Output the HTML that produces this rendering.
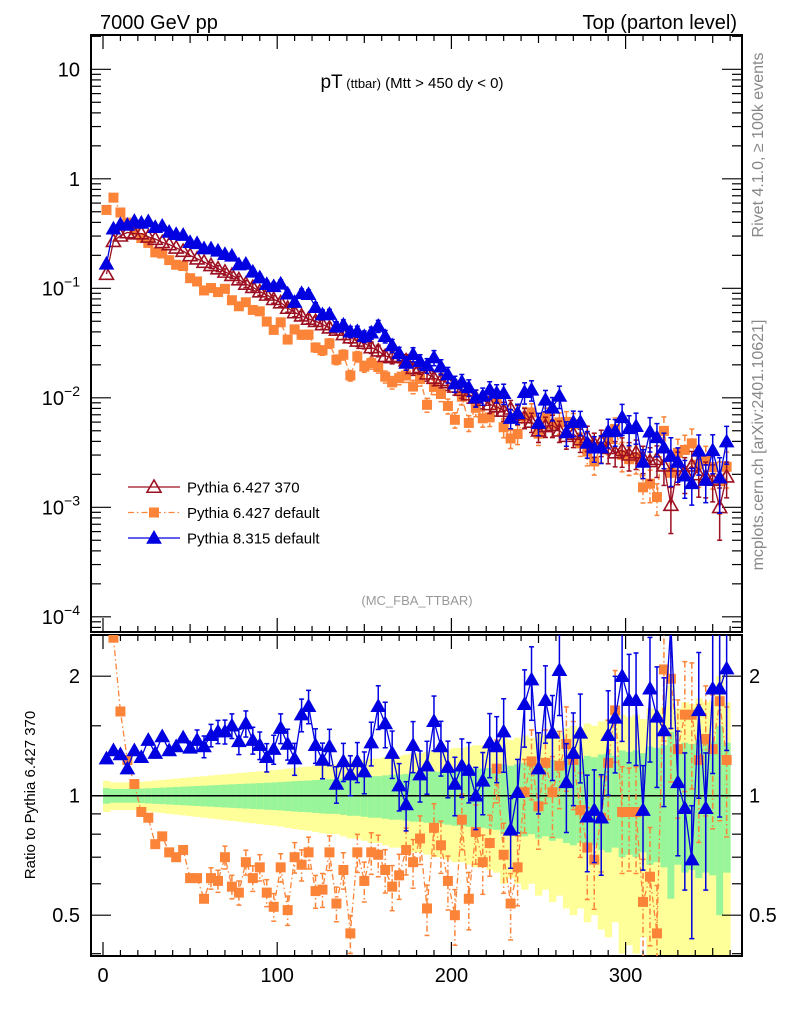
<!DOCTYPE html>
<html><head><meta charset="utf-8">
<style>
html,body{margin:0;padding:0;background:#fff;overflow:hidden;width:786px;height:1024px;}
svg{display:block;font-family:"Liberation Sans",sans-serif;}
</style></head>
<body>
<svg id="chart" width="786" height="1024" viewBox="0 0 786 1024" xmlns="http://www.w3.org/2000/svg">
<defs>
<clipPath id="mainClip"><rect x="91" y="35" width="651" height="597"/></clipPath>
<clipPath id="ratioClip"><rect x="91" y="635" width="651" height="321"/></clipPath>
</defs>
<rect x="0" y="0" width="786" height="1024" fill="#fff"/>
<g id="ratioBands" clip-path="url(#ratioClip)"></g>
<g id="axes"></g>
<g id="mainSeries" clip-path="url(#mainClip)"></g>
<g id="ratioSeries" clip-path="url(#ratioClip)"></g>
<text x="100" y="29" font-size="20">7000 GeV pp</text>
<text x="737" y="29" font-size="20" text-anchor="end">Top (parton level)</text>
<text x="412" y="88" text-anchor="middle"><tspan font-size="19">pT</tspan><tspan font-size="13"> (ttbar)</tspan><tspan font-size="15"> (Mtt &gt; 450 dy &lt; 0)</tspan></text>
<text x="417" y="605" font-size="13" fill="#999" text-anchor="middle">(MC_FBA_TTBAR)</text>
<text transform="translate(763,145) rotate(-90)" font-size="16" fill="#888" text-anchor="middle">Rivet 4.1.0, ≥ 100k events</text>
<text transform="translate(763,445) rotate(-90)" font-size="16" fill="#888" text-anchor="middle">mcplots.cern.ch [arXiv:2401.10621]</text>
<text transform="translate(35,795) rotate(-90)" font-size="15" text-anchor="middle">Ratio to Pythia 6.427 370</text>
<g id="legend"></g>
</svg>
<script>
const binCenters=[2,6,10,14,18,22,26,30,34,38,42,46,50,54,58,62,66,70,74,78,82,86,90,94,98,102,106,110,114,118,122,126,130,134,138,142,146,150,154,158,162,166,170,174,178,182,186,190,194,198,202,206,210,214,218,222,226,230,234,238,242,246,250,254,258,262,266,270,274,278,282,286,290,294,298,302,306,310,314,318,322,326,330,334,338,342,346,350,354,358];
const refLog10=[-0.87,-0.57,-0.52,-0.49,-0.50,-0.50,-0.53,-0.55,-0.58,-0.60,-0.63,-0.66,-0.70,-0.73,-0.76,-0.79,-0.82,-0.85,-0.88,-0.92,-0.96,-0.99,-1.03,-1.06,-1.10,-1.13,-1.18,-1.22,-1.25,-1.28,-1.30,-1.33,-1.36,-1.38,-1.42,-1.45,-1.48,-1.50,-1.54,-1.57,-1.62,-1.63,-1.62,-1.66,-1.73,-1.72,-1.78,-1.82,-1.84,-1.86,-1.90,-1.93,-1.97,-2.00,-2.02,-2.06,-2.08,-2.12,-2.10,-2.15,-2.18,-2.22,-2.30,-2.26,-2.25,-2.30,-2.35,-2.33,-2.38,-2.36,-2.42,-2.40,-2.46,-2.50,-2.48,-2.52,-2.50,-2.55,-2.58,-2.56,-2.62,-2.98,-2.62,-2.68,-2.62,-2.70,-2.72,-2.75,-3.00,-2.72];
const blueRatio=[1.24,1.30,1.27,1.17,1.30,1.25,1.38,1.28,1.41,1.30,1.33,1.40,1.32,1.38,1.33,1.42,1.45,1.45,1.50,1.37,1.52,1.38,1.34,1.25,1.31,1.48,1.35,1.24,1.60,1.68,1.34,1.23,1.33,1.07,1.22,1.13,1.22,1.15,1.36,1.68,1.52,1.28,1.06,0.95,1.34,1.13,1.19,1.54,1.33,1.18,1.07,1.19,1.16,1.00,1.09,1.36,1.33,1.45,0.82,1.02,1.70,1.96,1.17,1.74,1.44,2.07,1.08,1.28,1.44,0.885,0.92,0.88,1.42,1.57,2.00,1.74,1.74,0.92,1.86,1.58,1.46,2.80,1.08,0.93,0.69,1.64,0.93,1.86,1.86,2.09];
const orangeRatio=[3.85,2.50,1.63,1.23,1.07,0.91,0.88,0.755,0.79,0.72,0.70,0.73,0.62,0.62,0.55,0.62,0.61,0.70,0.59,0.57,0.68,0.62,0.66,0.57,0.525,0.66,0.515,0.70,0.67,0.72,0.575,0.58,0.72,0.535,0.65,0.45,0.72,0.61,0.72,0.71,0.65,0.59,0.63,0.73,0.68,0.78,0.52,0.83,0.75,0.61,0.50,0.87,0.55,0.81,0.68,0.76,1.17,0.71,0.535,0.66,1.02,1.22,0.94,1.21,1.02,1.19,1.35,1.23,0.92,0.74,0.69,0.88,1.21,1.64,0.91,0.91,0.91,0.54,0.625,0.45,2.08,1.97,1.31,1.60,1.60,1.23,1.39,1.31,1.73,1.23];
const relErr=[.045,.04,.04,.04,.04,.042,.044,.046,.048,.05,.052,.054,.056,.058,.06,.062,.064,.066,.068,.07,.072,.074,.076,.078,.08,.082,.085,.088,.09,.092,.095,.098,.10,.10,.105,.11,.11,.115,.12,.12,.125,.13,.13,.135,.14,.14,.145,.15,.15,.155,.16,.16,.165,.17,.17,.175,.18,.20,.19,.20,.21,.20,.22,.21,.23,.22,.24,.25,.24,.26,.25,.27,.28,.26,.30,.29,.30,.28,.33,.32,.34,.45,.33,.36,.35,.38,.36,.37,.50,.36];
const xTickLabels=["0","100","200","300"];
const xTickValues=[0,100,200,300];
const ratioTickValues=[0.5,1,2];
const ratioTickLabels=["0.5","1","2"];

const NS="http://www.w3.org/2000/svg";
const RED="#9c1022",ORANGE="#fb8439",BLUE="#0000e0";
const BIN=4;
function clamp(v,a,b){return Math.max(a,Math.min(b,v));}
function xs(v){return 103+1.742*v;}
function ym(v){return clamp(69.3+(1-Math.log10(v))*109.5,25,645);}
function yr(r){return clamp(795.7-Math.log10(Math.max(r,1e-3))*397,625,966);}
function mk(tag,attrs,parent){const e=document.createElementNS(NS,tag);for(const k in attrs)e.setAttribute(k,attrs[k]);parent.appendChild(e);return e;}
const axes=document.getElementById('axes');
const bands=document.getElementById('ratioBands');
const ms=document.getElementById('mainSeries');
const rs=document.getElementById('ratioSeries');

for(let i=0;i<binCenters.length;i++){
  const x0=xs(binCenters[i]-BIN/2),x1=xs(binCenters[i]+BIN/2),e=relErr[i];
  const yl=mk('rect',{x:x0,y:yr(1+2*e),width:x1-x0+0.5,height:yr(Math.max(1-2*e,0.05))-yr(1+2*e),fill:"#ffff99"},bands);
  
  
  const gr=mk('rect',{x:x0,y:yr(1+e),width:x1-x0+0.5,height:yr(1-e)-yr(1+e),fill:"#99f599"},bands);
  
  
}
const one=mk('line',{x1:91,x2:742,y1:yr(1),y2:yr(1),stroke:"#000","stroke-width":1.5},bands);



function line(x1,y1,x2,y2,w){return mk('line',{x1:x1,y1:y1,x2:x2,y2:y2,stroke:"#000","stroke-width":w||1.2},axes);}
const f1=mk('rect',{x:91,y:35,width:651,height:597,fill:"none",stroke:"#000","stroke-width":2},axes);


const f2=mk('rect',{x:91,y:635,width:651,height:321,fill:"none",stroke:"#000","stroke-width":2},axes);


for(let v=0;v<=360;v+=10){
  const maj=v%100===0,len=maj?14:(v%50===0?8:6),x=xs(v);
  line(x,35,x,35+len);line(x,632,x,632-len);
  line(x,635,x,635+len);line(x,956,x,956-len);
}
xTickValues.forEach((v,i)=>{const t=mk('text',{x:xs(v),y:982,"font-size":20,"text-anchor":"middle"},axes);t.textContent=xTickLabels[i];
 
 });
const decades=[1,0,-1,-2,-3,-4];
for(let d=-5;d<=1;d++){
  for(let m=1;m<=9;m++){const v=m*Math.pow(10,d),y=69.3+(1-Math.log10(v))*109.5;if(y<36||y>631)continue;
    const len=m===1?20:10;line(91,y,91+len,y);line(742,y,742-len,y);}
}
decades.forEach(d=>{const y=ym(Math.pow(10,d));const t=mk('text',{x:80,y:y+7,"font-size":20,"text-anchor":"end"},axes);
  
  
  if(d===1)t.textContent="10";else if(d===0)t.textContent="1";
  else{const a=mk('tspan',{},t);a.textContent="10";const b=mk('tspan',{dy:-9,"font-size":14},t);b.textContent="\u2212"+(-d);}});
[0.4,0.5,0.6,0.7,0.8,0.9,1,1.5,2].forEach(v=>{const y=795.7-Math.log10(v)*397;if(y<636||y>955)return;const maj=(v===0.5||v===1||v===2);const len=maj?20:10;
  line(91,y,91+len,y);line(742,y,742-len,y);});
ratioTickValues.forEach((v,i)=>{const y=yr(v)+7;
  const t=mk('text',{x:80,y:y,"font-size":20,"text-anchor":"end"},axes);t.textContent=ratioTickLabels[i];
  
  
  const t2=mk('text',{x:749,y:y,"font-size":20},axes);t2.textContent=ratioTickLabels[i];
  
  });

function tri(g,x,y,col,open){const s=7;const p=mk('polygon',{points:`${x},${y-s} ${x-s},${y+s*0.75} ${x+s},${y+s*0.75}`,fill:open?"none":col,stroke:col,"stroke-width":open?1.6:1},g);return p;}
function sq(g,x,y,col){return mk('rect',{x:x-5,y:y-5,width:10,height:10,fill:col},g);}
function errbar(g,x,y1,y2,col,dash){mk('line',{x1:x,x2:x,y1:y1,y2:y2,stroke:col,"stroke-width":1.5,"stroke-dasharray":dash||""},g);
  mk('line',{x1:x-2.5,x2:x+2.5,y1:y1,y2:y1,stroke:col,"stroke-width":1.5},g);mk('line',{x1:x-2.5,x2:x+2.5,y1:y2,y2:y2,stroke:col,"stroke-width":1.5},g);}

function drawSeries(parent,vals,errs,col,kind,dash,yf,name){
  const g=mk('g',{},parent);
  
  
  let pts=[];
  vals.forEach((v,i)=>{pts.push(xs(binCenters[i])+","+yf(v));});
  mk('polyline',{points:pts.join(" "),fill:"none",stroke:col,"stroke-width":1.3,"stroke-dasharray":dash||""},g);
  vals.forEach((v,i)=>{const x=xs(binCenters[i]);const e=errs[i]*v;
    if(errs[i]>0.06)errbar(g,x,yf(v+e),yf(Math.max(v-e,v*0.05)),col,dash);
    const m=kind==='sq'?sq(g,x,yf(v),col):tri(g,x,yf(v),col,kind==='open');
    
    });
}
const refVals=refLog10.map(l=>Math.pow(10,l));
const orangeVals=refVals.map((v,i)=>v*orangeRatio[i]);
const blueVals=refVals.map((v,i)=>v*blueRatio[i]);
const errBlue=relErr.map(e=>e*1.05);
drawSeries(ms,orangeVals,relErr,ORANGE,'sq',"6,3,1.5,3",ym,'pythia6-default-main');
drawSeries(ms,refVals,relErr,RED,'open',"",ym,'pythia6-370-main');
drawSeries(ms,blueVals,errBlue,BLUE,'fill',"",ym,'pythia8-default-main');
drawSeries(rs,orangeRatio,relErr,ORANGE,'sq',"6,3,1.5,3",yr,'pythia6-default-ratio');
drawSeries(rs,blueRatio,errBlue,BLUE,'fill',"",yr,'pythia8-default-ratio');

const lg=document.getElementById('legend');
const entries=[["Pythia 6.427 370",RED,'open',""],["Pythia 6.427 default",ORANGE,'sq',"6,3,1.5,3"],["Pythia 8.315 default",BLUE,'fill',""]];
entries.forEach((en,i)=>{const y=487+i*25.5;const g=mk('g',{},lg);
  
  
  mk('line',{x1:128,x2:180,y1:y,y2:y,stroke:en[1],"stroke-width":1.3,"stroke-dasharray":en[3]},g);
  if(en[2]==='sq')sq(g,154,y,en[1]);else tri(g,154,y,en[1],en[2]==='open');
  const t=mk('text',{x:187,y:y+5.5,"font-size":15},g);t.textContent=en[0];});
</script>
</body></html>
